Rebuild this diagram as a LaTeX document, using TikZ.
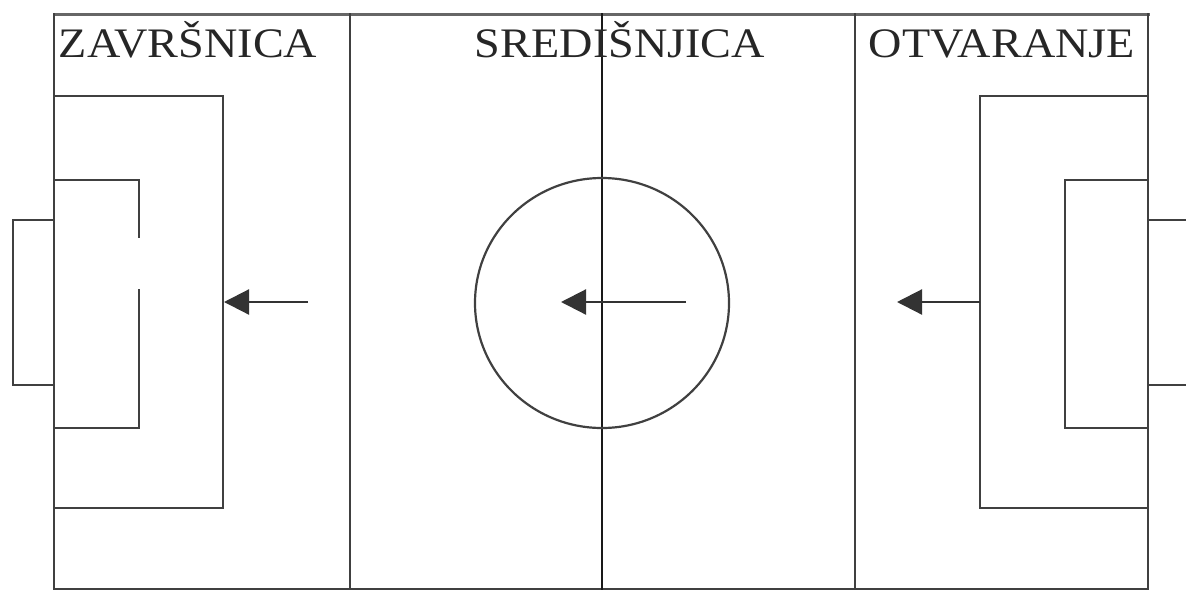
\documentclass[tikz,border=0pt]{standalone}
\usepackage{fontspec}
\setmainfont{Liberation Serif}
\usetikzlibrary{arrows.meta}
\begin{document}
\begin{tikzpicture}[x=1pt,y=-1pt,
  pitch/.style={line width=2.2pt,draw=black!75,line cap=rect},
  zone/.style={font=\fontsize{42}{42}\selectfont,text=black!85,anchor=base,inner sep=0pt},
  movearrow/.style={line width=2.2pt,draw=black!80,-{Triangle[length=25pt,width=25pt]}}]
\useasboundingbox (0,0) rectangle (1186,590);
\clip (0,0) rectangle (1186,590);
% outline
\draw[pitch,line width=3pt,draw=black!60] (54,14) -- (1148,14);
\draw[pitch] (54,14) -- (54,589) -- (1148,589) -- (1148,14);
% zone lines
\draw[pitch] (350,14) -- (350,589);
\draw[pitch,draw=black!90] (602,14) -- (602,589);
\draw[pitch] (855,14) -- (855,589);
% centre circle
\draw[pitch] (602,303) ellipse [x radius=127, y radius=125];
% left end
\draw[pitch] (54,96) -- (223,96) -- (223,508) -- (54,508);
\draw[pitch] (139,237) -- (139,180) -- (54,180);
\draw[pitch] (139,290) -- (139,428) -- (54,428);
\draw[pitch] (54,220) -- (13,220) -- (13,385) -- (54,385);
% right end
\draw[pitch] (1148,96) -- (980,96) -- (980,508) -- (1148,508);
\draw[pitch] (1148,180) -- (1065,180) -- (1065,428) -- (1148,428);
\draw[pitch] (1148,220) -- (1195,220);
\draw[pitch] (1148,385) -- (1195,385);
% arrows
\coordinate (a1s) at (308,302); \coordinate (a1e) at (224,302);
\coordinate (a2s) at (686,302); \coordinate (a2e) at (561,302);
\coordinate (a3s) at (980,302); \coordinate (a3e) at (897,302);
\draw[movearrow] (a1s) -- (a1e);
\draw[movearrow] (a2s) -- (a2e);
\draw[movearrow] (a3s) -- (a3e);
% labels
\node[zone] (zav) at (188,57) {\scalebox{1.1}[1]{ZAVRŠNICA}};
\node[zone] (sre) at (620,57) {\scalebox{1.1}[1]{SREDIŠNJICA}};
\node[zone] (otv) at (1002,57) {\scalebox{1.1}[1]{OTVARANJE}};
\end{tikzpicture}
\end{document}
